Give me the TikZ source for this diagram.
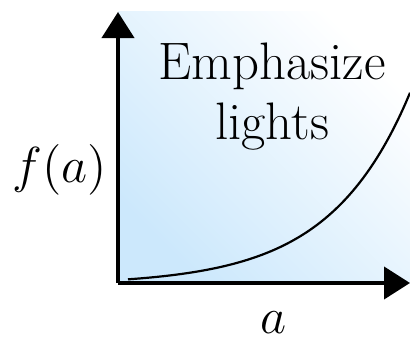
\documentclass[tikz,border=0pt]{standalone}
\usetikzlibrary{arrows.meta,positioning}
\definecolor{skyblue}{RGB}{204,232,252}

\begin{document}
\begin{tikzpicture}[
  x=0.01cm,y=0.01cm,
  axis/.style={-{Triangle[length=0.26cm,width=0.32cm]},line width=0.04cm,black},
  curve/.style={line width=0.022cm,black},
  lbl/.style={font=\fontsize{15}{18}\selectfont,inner sep=0pt},
]
  \useasboundingbox (0,0) rectangle (410,340);
  \coordinate (origin) at (118,57);
  \coordinate (ytip) at (118,328);
  \coordinate (xtip) at (410,57);
  \shade[bottom color=skyblue,top color=white,shading angle=-45]
    (origin) rectangle (410,328);
  \draw[curve] plot[domain=10:292,samples=60,smooth]
    ({118+\x},{60+5*(exp(0.0125*\x)-1)});
  \draw[axis] (origin) -- (ytip);
  \draw[axis] (origin) -- (xtip);
  \node[lbl,anchor=base] (emph) at (272,260) {Emphasize};
  \node[lbl,anchor=base] (lights) at (272,200) {lights};
  \node[lbl] (fa) at (60,170) {$f(a)$};
  \node[lbl,anchor=base] (a) at (274,7) {$a$};
\end{tikzpicture}
\end{document}
